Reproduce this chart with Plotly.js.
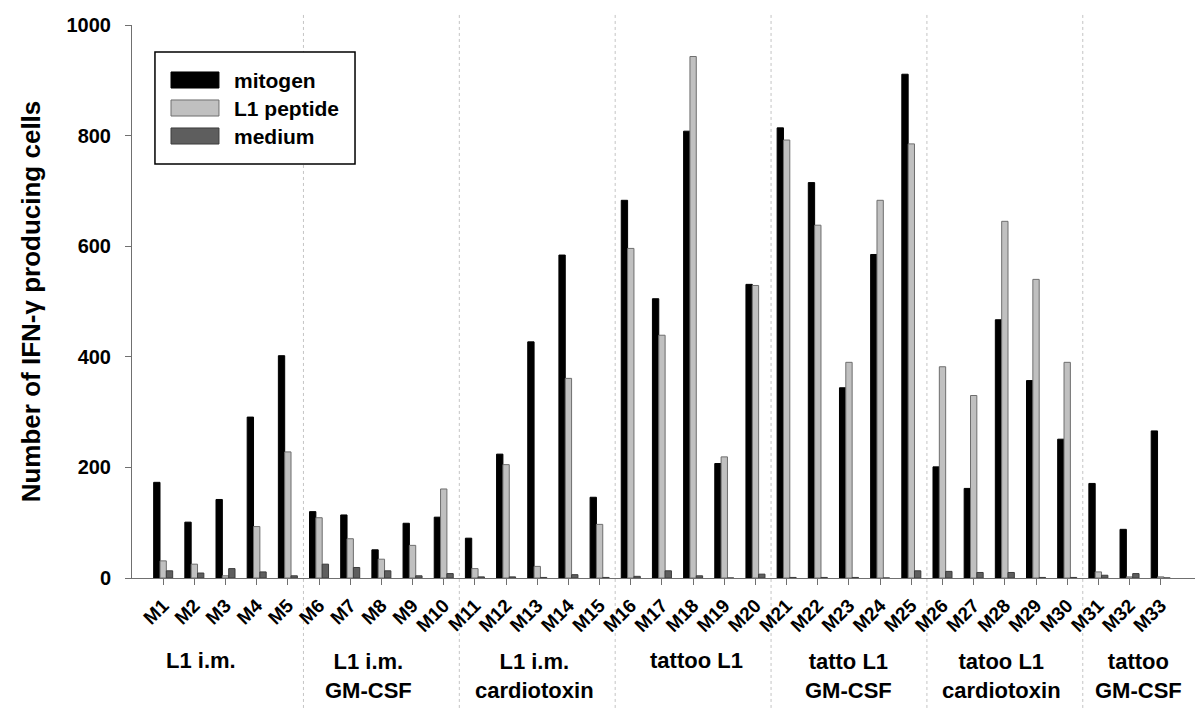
<!DOCTYPE html>
<html>
<head>
<meta charset="utf-8">
<script src="https://cdn.plot.ly/plotly-3.0.1.min.js"></script>
<style>
    html, body { margin: 0; padding: 0; background: #ffffff; }
    #graficoContainer { width: 1200px; height: 724px; }
</style>
</head>
<body>
<div id="graficoContainer"></div>
<script>
// ============================================
// IFN-γ ELISPOT per mouse (M1..M33), grouped bars
// three stimulations: mitogen / L1 peptide / medium
// ============================================

const mice = ['M1', 'M2', 'M3', 'M4', 'M5', 'M6', 'M7', 'M8', 'M9', 'M10',
    'M11', 'M12', 'M13', 'M14', 'M15', 'M16', 'M17', 'M18', 'M19', 'M20',
    'M21', 'M22', 'M23', 'M24', 'M25', 'M26', 'M27', 'M28', 'M29', 'M30',
    'M31', 'M32', 'M33'];

const mitogen = [173, 101, 142, 291, 402, 120, 114, 51, 99, 110,
    72, 224, 427, 584, 146, 683, 505, 808, 207, 531,
    814, 715, 344, 585, 911, 201, 162, 467, 357, 251,
    171, 88, 266];

const l1Peptide = [31, 25, 4, 93, 228, 109, 71, 34, 59, 161,
    17, 205, 21, 361, 97, 596, 439, 943, 219, 529,
    792, 638, 390, 683, 785, 382, 330, 645, 540, 390,
    11, 2, 2];

const medium = [13, 9, 17, 11, 4, 25, 19, 13, 4, 8,
    2, 2, 1, 6, 1, 3, 13, 4, 0, 7,
    1, 1, 1, 0, 13, 12, 10, 10, 1, 1,
    5, 8, 0];

const seriesNames = ['mitogen', 'L1 peptide', 'medium'];

const groupLabels = ['L1 i.m.', 'L1 i.m.<br>GM-CSF', 'L1 i.m.<br>cardiotoxin',
    'tattoo L1', 'tatto L1<br>GM-CSF', 'tatoo L1<br>cardiotoxin', 'tattoo<br>GM-CSF'];
const groupSizes = [5, 5, 5, 5, 5, 5, 3];

// ---- estilos ----
const FONT = 'Liberation Sans, Arial, Helvetica, sans-serif';
const fills = ['#000000', '#c0c0c0', '#5e5e5e'];
const outlines = ['#000000', '#6e6e6e', '#3c3c3c'];
const labelX = [1.2, 6.6, 11.9, 17.1, 22.0, 26.9, 31.3];

const valores = [mitogen, l1Peptide, medium];
const traces = valores.map((v, k) => ({
    type: 'bar',
    x: mice,
    y: v,
    name: seriesNames[k],
    marker: { color: fills[k], line: { color: outlines[k], width: 1 } },
    hoverinfo: 'x+y+name'
}));

// dotted separators between treatment groups
const shapes = [];
let acum = 0;
groupSizes.slice(0, -1).forEach(n => {
    acum += n;
    shapes.push({
        type: 'line', xref: 'x', yref: 'paper',
        x0: acum - 0.5, x1: acum - 0.5, y0: -0.235, y1: 1.02,
        line: { color: '#c4c4c4', width: 1, dash: 'dot' },
        layer: 'below'
    });
});

// group labels under the mouse ids
const annotations = groupLabels.map((txt, i) => ({
    text: txt,
    x: labelX[i], xref: 'x',
    y: txt.includes('<br>') ? -0.178 : -0.150, yref: 'paper',
    xanchor: 'center', yanchor: 'middle',
    showarrow: false,
    font: { family: FONT, size: 22, color: '#000', weight: 'bold' }
}));

// hand-drawn legend box (wide swatches like the original)
const legX0 = 0.0216, legX1 = 0.2098, legY0 = 0.7486, legY1 = 0.9512;
shapes.push({
    type: 'rect', xref: 'paper', yref: 'paper',
    x0: legX0, x1: legX1, y0: legY0, y1: legY1,
    line: { color: '#000', width: 1.5 }, fillcolor: '#fff'
});
seriesNames.forEach((nombre, k) => {
    const yc = (578 - (80 + 28 * k)) / 553;
    shapes.push({
        type: 'rect', xref: 'paper', yref: 'paper',
        x0: 0.0367, x1: 0.0818, y0: yc - 0.0145, y1: yc + 0.0145,
        line: { color: outlines[k], width: 1 }, fillcolor: fills[k]
    });
    annotations.push({
        text: nombre, xref: 'paper', yref: 'paper',
        x: 0.0941, y: yc, xanchor: 'left', yanchor: 'middle',
        showarrow: false,
        font: { family: FONT, size: 21, color: '#000', weight: 'bold' }
    });
});

const layout = {
    width: 1200,
    height: 724,
    paper_bgcolor: '#ffffff',
    plot_bgcolor: '#ffffff',
    margin: { l: 132, r: 5, t: 25, b: 146 },
    barmode: 'group',
    bargap: 0.39,
    bargroupgap: 0,
    showlegend: false,
    font: { family: FONT, color: '#000' },
    xaxis: {
        type: 'category',
        categoryorder: 'array',
        categoryarray: mice,
        range: [-1, 33.1],
        showline: true,
        linecolor: '#707070',
        linewidth: 1,
        ticks: 'outside',
        ticklen: 6,
        tickcolor: '#707070',
        tickangle: -45,
        ticklabelstandoff: 2,
        tickfont: { family: FONT, size: 19, color: '#000', weight: 'bold' },
        showgrid: false,
        zeroline: false,
        fixedrange: true
    },
    yaxis: {
        range: [0, 1000],
        dtick: 200,
        showline: true,
        linecolor: '#707070',
        linewidth: 1,
        ticks: 'outside',
        ticklen: 6,
        tickcolor: '#707070',
        ticklabelstandoff: 10,
        tickfont: { family: FONT, size: 20, color: '#000', weight: 'bold' },
        showgrid: false,
        zeroline: false,
        title: {
            text: 'Number of IFN-γ producing cells',
            standoff: 18,
            font: { family: FONT, size: 26, color: '#000', weight: 'bold' }
        },
        fixedrange: true
    },
    shapes: shapes,
    annotations: annotations
};

const config = {
    responsive: false,
    displayModeBar: false,
    displaylogo: false
};

Plotly.newPlot('graficoContainer', traces, layout, config);
</script>
</body>
</html>
